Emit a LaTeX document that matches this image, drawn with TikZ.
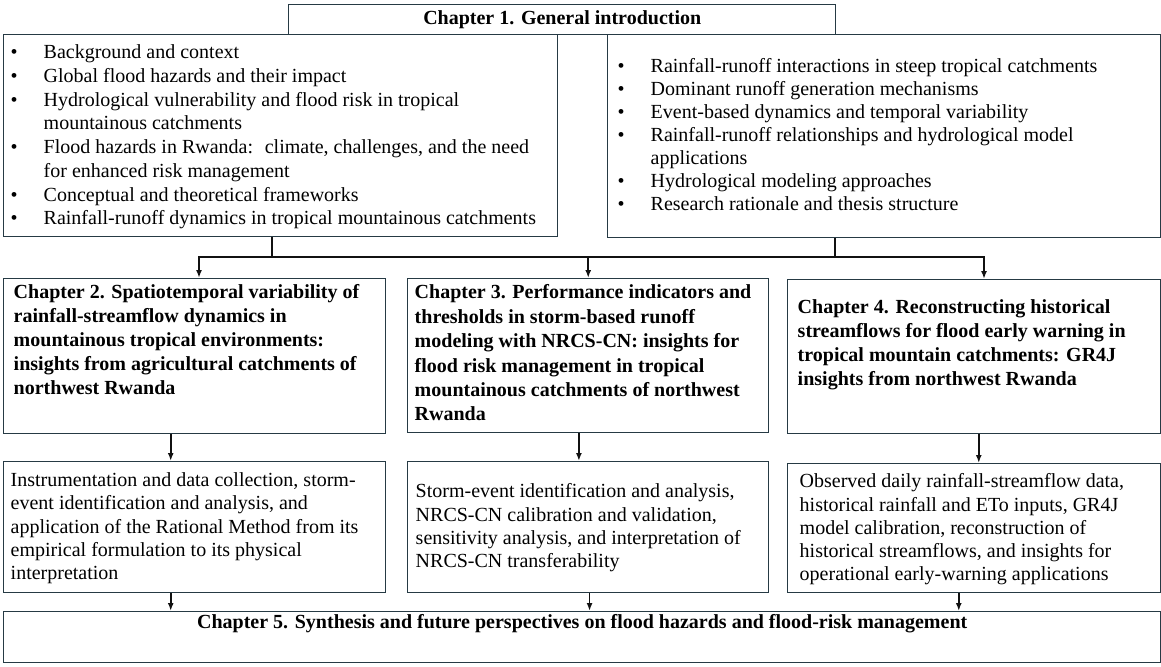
\documentclass[tikz,border=0pt]{standalone}
\usepackage{fontspec}
\setmainfont{Liberation Serif}
\usetikzlibrary{arrows.meta,positioning}
\definecolor{framecol}{HTML}{263A44}
\definecolor{wirecol}{HTML}{111111}
\newlength\px
\setlength\px{0.75pt}
% text block of a box: width, height, top pad, left pad, lines
\newcommand{\boxlines}[5]{\parbox[t][#2\px][t]{#1\px}{\vspace*{#3\px}\raggedright\leftskip=#4\px\relax #5\par}}
\newcommand{\bul}{\makebox[33\px][l]{\textbullet}}
\newcommand{\cont}{\hspace*{33\px}}

\begin{document}
\begin{tikzpicture}[x=0.75pt, y=-0.75pt,
    font=\fontsize{15pt}{18pt}\selectfont,
    box/.style={draw=framecol, line width=1.1pt, inner sep=0pt, anchor=north west, fill=white},
    wire/.style={draw=wirecol, line width=1.2pt},
    line/.style={wire, -{Latex[length=6pt,width=4.5pt]}}
]
    \useasboundingbox (0,0) rectangle (1161,667);

    \node [box, minimum width=547\px, minimum height=30\px] (intro) at (288,4) {\bfseries Chapter 1. General introduction};
    \node [box] (bgleft) at (3,34) {\boxlines{554}{202}{10}{7}{\baselineskip=17.8pt
        \bul Background and context\\
        \bul Global flood hazards and their impact\\
        \bul Hydrological vulnerability and flood risk in tropical\\
        \cont mountainous catchments\\
        \bul Flood hazards in Rwanda:~ climate, challenges, and the need\\
        \cont for enhanced risk management\\
        \bul Conceptual and theoretical frameworks\\
        \bul Rainfall-runoff dynamics in tropical mountainous catchments}};
    \node [box] (bgright) at (607,34) {\boxlines{553}{203}{24}{10}{\baselineskip=17.25pt
        \bul Rainfall-runoff interactions in steep tropical catchments\\
        \bul Dominant runoff generation mechanisms\\
        \bul Event-based dynamics and temporal variability\\
        \bul Rainfall-runoff relationships and hydrological model\\
        \cont applications\\
        \bul Hydrological modeling approaches\\
        \bul Research rationale and thesis structure}};

    \node [box] (ch2) at (3,278) {\boxlines{382}{155}{6}{10}{\bfseries
        Chapter 2. Spatiotemporal variability of\\
        rainfall-streamflow dynamics in\\
        mountainous tropical environments:\\
        insights from agricultural catchments of\\
        northwest Rwanda}};
    \node [box] (ch3) at (407,278) {\boxlines{361}{154}{6}{7}{\bfseries\baselineskip=18.3pt
        Chapter 3. Performance indicators and\\
        thresholds in storm-based runoff\\
        modeling with NRCS-CN: insights for\\
        flood risk management in tropical\\
        mountainous catchments of northwest\\
        Rwanda}};
    \node [box] (ch4) at (787,279) {\boxlines{373}{154}{20}{10}{\bfseries
        Chapter 4. Reconstructing historical\\
        streamflows for flood early warning in\\
        tropical mountain catchments: GR4J\\
        insights from northwest Rwanda}};

    \node [box] (work2) at (3,461) {\boxlines{382}{131}{11}{7}{\baselineskip=17.4pt
        Instrumentation and data collection, storm-\\
        event identification and analysis, and\\
        application of the Rational Method from its\\
        empirical formulation to its physical\\
        interpretation}};
    \node [box] (work3) at (407,461) {\boxlines{361}{131}{22}{8}{\baselineskip=17.4pt
        Storm-event identification and analysis,\\
        NRCS-CN calibration and validation,\\
        sensitivity analysis, and interpretation of\\
        NRCS-CN transferability}};
    \node [box] (work4) at (787,463) {\boxlines{373}{129}{10}{12}{\baselineskip=17.4pt
        Observed daily rainfall-streamflow data,\\
        historical rainfall and ETo inputs, GR4J\\
        model calibration, reconstruction of\\
        historical streamflows, and insights for\\
        operational early-warning applications}};

    \node [box] (synth) at (3,611) {\boxlines{1157}{51}{3}{0}{\centering\bfseries
        Chapter 5. Synthesis and future perspectives on flood hazards and flood-risk management}};

    % split from chapter 1 to the three studies
    \coordinate (tapL) at (272,257);
    \coordinate (tapR) at (835,257);
    \coordinate (busL) at (199,257);
    \coordinate (busR) at (984,257);
    \path [wire] (bgleft.south -| tapL) -- (tapL);
    \path [wire] (bgright.south -| tapR) -- (tapR);
    \path [wire, {Latex[length=6pt,width=4.5pt]}-{Latex[length=6pt,width=4.5pt]}] (ch2.north -| busL) |- (busR) -- (ch4.north -| busR);
    \path [line] (ch3.north |- busL) -- (ch3.north);

    % chapters to their work packages
    \coordinate (down2) at ([xshift=-18pt]ch2.south);
    \coordinate (down3) at ([xshift=-7pt]ch3.south);
    \coordinate (down4) at ([xshift=3.4pt]ch4.south);
    \path [line] (down2) -- (down2 |- work2.north);
    \path [line] (down3) -- (down3 |- work3.north);
    \path [line] (down4) -- (down4 |- work4.north);

    % work packages to the synthesis
    \coordinate (out2) at ([xshift=-18pt]work2.south);
    \coordinate (out3) at ([xshift=1pt]work3.south);
    \coordinate (out4) at ([xshift=-11.6pt]work4.south);
    \path [line] (out2) -- (out2 |- synth.north);
    \path [line] (out3) -- (out3 |- synth.north);
    \path [line] (out4) -- (out4 |- synth.north);
\end{tikzpicture}
\end{document}
